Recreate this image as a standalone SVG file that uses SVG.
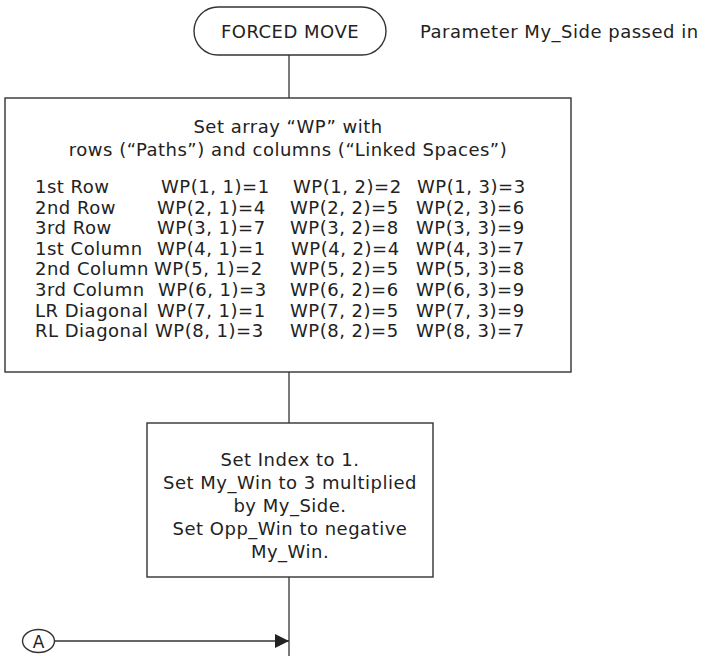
<svg xmlns="http://www.w3.org/2000/svg" width="706" height="656" viewBox="0 0 706 656">
<defs>
<style>
.shape{fill:#fff;stroke:#333;stroke-width:1.4}
.conn{fill:none;stroke:#333;stroke-width:1.3}
text{font-family:"DejaVu Sans","Liberation Sans",sans-serif;font-size:18px;letter-spacing:0.5px;fill:#222}
.c{text-anchor:middle}
</style>
<marker id="arr" markerWidth="14" markerHeight="14" refX="14" refY="7" orient="auto" markerUnits="userSpaceOnUse">
<path d="M0,0 L14,7 L0,14 Z" fill="#222"/>
</marker>
</defs>
<rect width="706" height="656" fill="#fff"/>
<g id="connectors">
<line class="conn" x1="289" y1="55" x2="289" y2="98"/>
<line class="conn" x1="289" y1="372" x2="289" y2="423"/>
<line class="conn" x1="289" y1="577" x2="289" y2="656"/>
<line class="conn" x1="55" y1="641" x2="289" y2="641" marker-end="url(#arr)"/>
</g>
<g id="start">
<rect class="shape" x="194" y="7" width="192" height="48" rx="24"/>
<text class="c" x="290" y="38">FORCED MOVE</text>
</g>
<g id="param-note">
<text x="420" y="38">Parameter My_Side passed in</text>
</g>
<g id="set-array">
<rect class="shape" x="5" y="98" width="566" height="274"/>
<text class="c" x="288" y="133">Set array “WP” with</text>
<text class="c" x="288" y="156">rows (“Paths”) and columns (“Linked Spaces”)</text>
<text x="35" y="193">1st Row</text><text x="161" y="193">WP(1, 1)=1</text><text x="293" y="193">WP(1, 2)=2</text><text x="417" y="193">WP(1, 3)=3</text>
<text x="35" y="213.6">2nd Row</text><text x="157" y="213.6">WP(2, 1)=4</text><text x="290" y="213.6">WP(2, 2)=5</text><text x="416" y="213.6">WP(2, 3)=6</text>
<text x="35" y="234.2">3rd Row</text><text x="157" y="234.2">WP(3, 1)=7</text><text x="290" y="234.2">WP(3, 2)=8</text><text x="416" y="234.2">WP(3, 3)=9</text>
<text x="35" y="254.8">1st Column</text><text x="157" y="254.8">WP(4, 1)=1</text><text x="291" y="254.8">WP(4, 2)=4</text><text x="416" y="254.8">WP(4, 3)=7</text>
<text x="35" y="275.4">2nd Column</text><text x="154" y="275.4">WP(5, 1)=2</text><text x="290" y="275.4">WP(5, 2)=5</text><text x="416" y="275.4">WP(5, 3)=8</text>
<text x="35" y="296">3rd Column</text><text x="158" y="296">WP(6, 1)=3</text><text x="290" y="296">WP(6, 2)=6</text><text x="416" y="296">WP(6, 3)=9</text>
<text x="35" y="316.6">LR Diagonal</text><text x="157" y="316.6">WP(7, 1)=1</text><text x="290" y="316.6">WP(7, 2)=5</text><text x="416" y="316.6">WP(7, 3)=9</text>
<text x="35" y="337.2">RL Diagonal</text><text x="155" y="337.2">WP(8, 1)=3</text><text x="290" y="337.2">WP(8, 2)=5</text><text x="416" y="337.2">WP(8, 3)=7</text>
</g>
<g id="set-index">
<rect class="shape" x="147" y="423" width="286" height="154"/>
<text class="c" x="290" y="466">Set Index to 1.</text>
<text class="c" x="290" y="489">Set My_Win to 3 multiplied</text>
<text class="c" x="290" y="512">by My_Side.</text>
<text class="c" x="290" y="535">Set Opp_Win to negative</text>
<text class="c" x="290" y="558">My_Win.</text>
</g>
<g id="connector-a">
<ellipse class="shape" cx="38.5" cy="641" rx="16" ry="11.5"/>
<text class="c" x="38.5" y="647.5" style="font-size:17px;letter-spacing:0">A</text>
</g>
</svg>
